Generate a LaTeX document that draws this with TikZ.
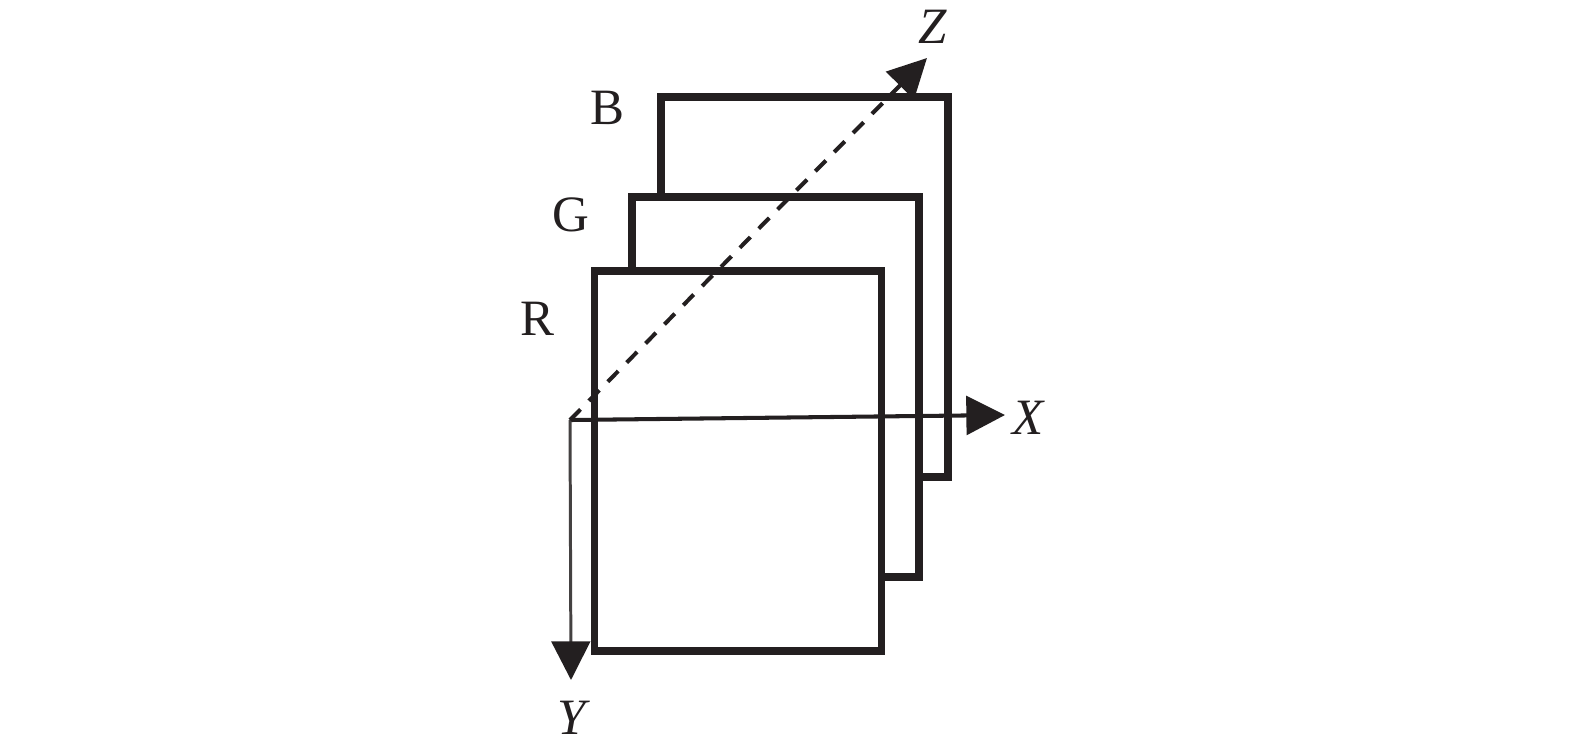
\documentclass[tikz,border=0pt]{standalone}
\usepackage{fontspec}
\setmainfont{Liberation Serif}
\usetikzlibrary{arrows.meta}
\definecolor{Ink}{RGB}{35,31,32}
\tikzset{%
	plane/.style={rectangle, draw=Ink, fill=white, line width=4.3pt,
		minimum width=5.74cm, minimum height=7.6cm, inner sep=0pt},
	channel/.style={inner sep=0pt, text=Ink, font=\fontsize{29}{31}\selectfont},
	axis/.style={draw=Ink, line width=2.3pt,
		-{Triangle[length=22pt, width=22pt, color=Ink]}},
}

\begin{document}
\begin{tikzpicture}[x=0.02cm, y=-0.02cm]
    \useasboundingbox (0,0) rectangle (1575,752);

    % colour planes, back to front
    \node [plane] (Blue)  at (804.5,287) {};
    \node [plane] (Green) at (775.5,387) {};
    \node [plane] (Red)   at (738,461) {};

    \node [channel] (BlueLabel)  at (607,108) {B};
    \node [channel] (GreenLabel) at (571,215) {G};
    \node [channel] (RedLabel)   at (537,319) {R};

    % axes
    \coordinate (Origin) at (570,420);
    \coordinate (XEnd) at (1005,415);
    \coordinate (YEnd) at (571,680);
    \coordinate (ZEnd) at (927,58);

    \draw [axis] (Origin) -- (XEnd);
    \draw [axis, line width=1.7pt, draw=Ink!85] (Origin) -- (YEnd);
    \draw [axis, dash pattern=on 8.5pt off 6.8pt] (Origin) -- (ZEnd);

    \node [channel] (XLabel) at (1028,418) {\itshape X};
    \node [channel] (YLabel) at (572,718) {\itshape Y};
    \node [channel] (ZLabel) at (933,27) {\itshape Z};
\end{tikzpicture}
\end{document}
